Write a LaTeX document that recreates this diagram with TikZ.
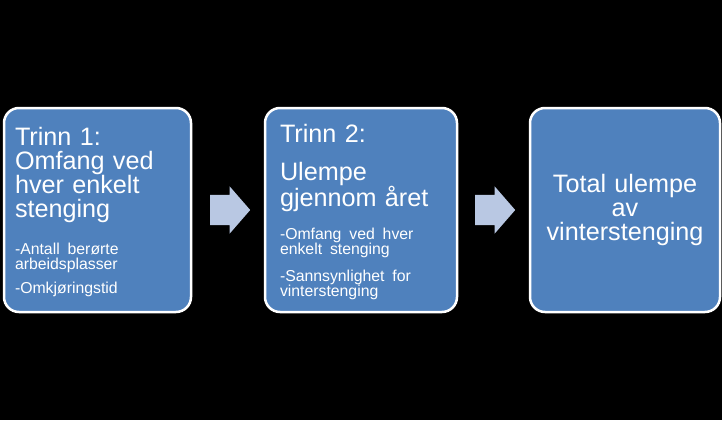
\documentclass[tikz,border=0pt]{standalone}
\usepackage{fontspec}
\setmainfont{Liberation Sans}
\usetikzlibrary{shapes.arrows,calc}
\definecolor{boxblue}{RGB}{79,129,189}
\definecolor{arrowblue}{RGB}{185,200,227}
\newcommand{\stortxt}{\fontsize{25.2}{24}\selectfont\spaceskip=0.33em}
\newcommand{\smatxt}{\fontsize{15.8}{15}\selectfont\spaceskip=0.5em}

\begin{document}
\begin{tikzpicture}[x=1pt, y=-1pt,
		trinn/.style={draw=white, line width=2.5pt, fill=boxblue, rounded corners=15pt,
			minimum height=204pt, text=white, inner sep=0pt},
		pil/.style={single arrow, fill=arrowblue, minimum height=40pt, minimum width=46.7pt,
			single arrow head extend=8.35pt, single arrow tip angle=98,
			inner xsep=0pt, inner ysep=15pt, anchor=tail}]
		\fill[black] (0,0) rectangle (722,420);
		\useasboundingbox (0,0) rectangle (722,420);
		% de tre trinnene
		\node[trinn, minimum width=187pt, text width=165pt, align=left] (trinn1) at (97.5,210) {%
			{\stortxt Trinn 1:\\Omfang ved\\hver enkelt\\stenging\par}
			\vspace{18.7pt}
			{\smatxt -Antall berørte\\arbeidsplasser\par}
			\vspace{9pt}
			{\smatxt -Omkjøringstid\par}
			\vspace{-4pt}};
		\node[trinn, minimum width=192pt, text width=162pt, align=left] (trinn2) at (361,210) {%
			{\stortxt Trinn 2:\par}
			\vspace{13.7pt}
			{\stortxt Ulempe\\gjennom året\par}
			\vspace{15pt}
			{\smatxt -Omfang ved hver\\enkelt stenging\par}
			\vspace{11.7pt}
			{\smatxt -Sannsynlighet for\\vinterstenging\par}
			\vspace{-4pt}};
		\node[trinn, minimum width=190pt, text width=180pt, align=center] (trinn3) at (625,210) {%
			{\stortxt Total ulempe\\av\\vinterstenging\par}};
		% piler mellom trinnene
		\node[pil] (pil1) at ($(trinn1.east)!0.5!(trinn2.west)+(-18,0)$) {};
		\node[pil] (pil2) at ($(trinn2.east)!0.5!(trinn3.west)+(-18.5,0)$) {};
	\end{tikzpicture}
\end{document}
